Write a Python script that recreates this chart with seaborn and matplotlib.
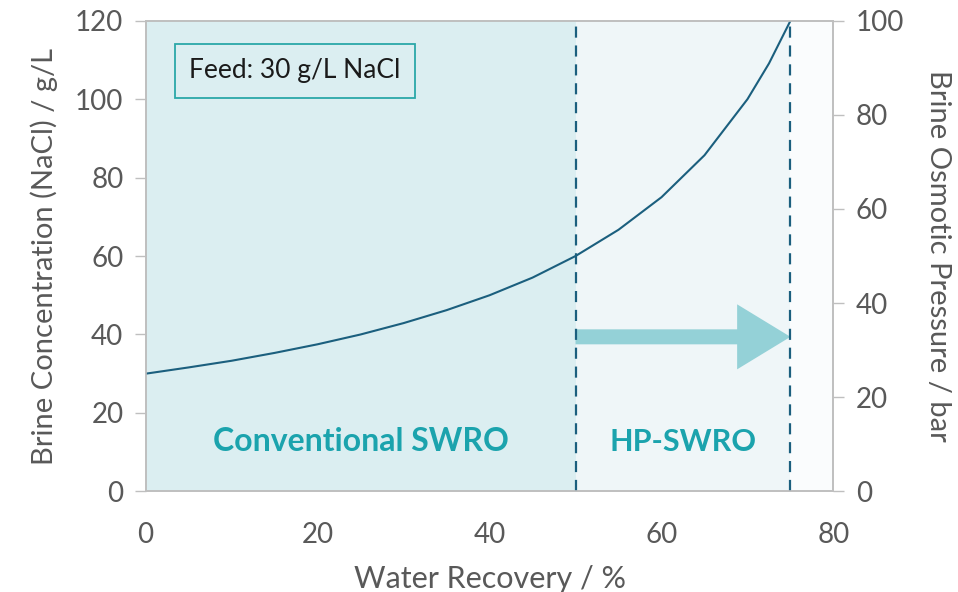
import numpy as np
import pandas as pd
import matplotlib
matplotlib.use("Agg")
import matplotlib.pyplot as plt
import seaborn as sns

# Values
recovery = [0, 5, 10, 15, 20, 25, 30, 35, 40, 45, 50, 55, 60, 65, 70, 72.5, 75]
brine_conc = [30, 31.6, 33.3, 35.3, 37.5, 40.0, 42.9, 46.2, 50.0, 54.5, 60.0, 66.7, 75.0, 85.7, 100.0, 109.1, 120.0]

# region limits (% recovery) and labels
region_edges = [0, 50, 75, 80]
region_labels = ["Conventional SWRO", "HP-SWRO"]
feed_label = "Feed: 30 g/L NaCl"

x_ticks = [0, 20, 40, 60, 80]
y_ticks = [0, 20, 40, 60, 80, 100, 120]
y2_ticks = [0, 20, 40, 60, 80, 100]

df = pd.DataFrame({"Recovery": recovery, "Brine": brine_conc})

sns.set_theme(style="white")
plt.rcParams["font.family"] = ["Lato", "DejaVu Sans"]

grey = "#595959"
spine_col = "#bfbfbf"
line_col = "#1b5f7e"
teal = "#1ba3ad"

fig, ax = plt.subplots(figsize=(9.58, 5.92), dpi=100)
fig.subplots_adjust(left=0.152, right=0.87, top=0.965, bottom=0.17)

# background shading of the two regions
ax.axvspan(region_edges[0], region_edges[1], color="#dbeef1", zorder=0, lw=0)
ax.axvspan(region_edges[1], region_edges[2], color="#eff6f8", zorder=0, lw=0)
ax.axvspan(region_edges[2], region_edges[3], color="#fafcfd", zorder=0, lw=0)

sns.lineplot(data=df, x="Recovery", y="Brine", ax=ax, color=line_col, lw=1.5, zorder=3)

for xv in region_edges[1:3]:
    ax.axvline(xv, color=line_col, ls=(0, (5, 3.5)), lw=1.6, zorder=4)

# arrow pointing to higher recovery
ax.annotate("", xy=(region_edges[2], 39.4), xytext=(region_edges[1], 39.4),
            arrowprops=dict(arrowstyle="simple,head_length=3.2,head_width=3.9,tail_width=0.9",
                            color="#94d1d7", lw=0, shrinkA=0, shrinkB=0), zorder=2)

ax.text(25, 12.7, region_labels[0], ha="center", va="center", fontsize=23,
        fontweight="bold", color=teal)
ax.text(62.5, 12.7, region_labels[1], ha="center", va="center", fontsize=22,
        fontweight="bold", color=teal)

ax.text(5.1, 107.2, feed_label, ha="left", va="center", fontsize=19, color="#1a1a1a",
        bbox=dict(boxstyle="square,pad=0.55", fc="#dbeef1", ec="#2aa8a8", lw=1.3))

ax.set_xlim(0, 80)
ax.set_ylim(0, 120)
ax.set_xticks(x_ticks)
ax.set_yticks(y_ticks)
ax.set_xlabel("Water Recovery / %", fontsize=22, color=grey, labelpad=12)
ax.set_ylabel("Brine Concentration (NaCl) / g/L", fontsize=21, color=grey, labelpad=12)
ax.tick_params(axis="both", labelsize=20, colors=grey, length=8, width=1,
               direction="out", color=spine_col, pad=8)
ax.tick_params(axis="x", pad=14)

ax2 = ax.twinx()
ax2.set_ylim(0, 100)
ax2.set_yticks(y2_ticks)
ax2.set_ylabel("Brine Osmotic Pressure / bar", fontsize=21, color=grey,
               rotation=270, labelpad=34)
ax2.tick_params(axis="y", labelsize=20, colors=grey, length=8, width=1,
                direction="out", color=spine_col, pad=8)

for a in (ax, ax2):
    for s in a.spines.values():
        s.set_color(spine_col)
        s.set_linewidth(1.2)

fig.savefig("out.png", dpi=100)
